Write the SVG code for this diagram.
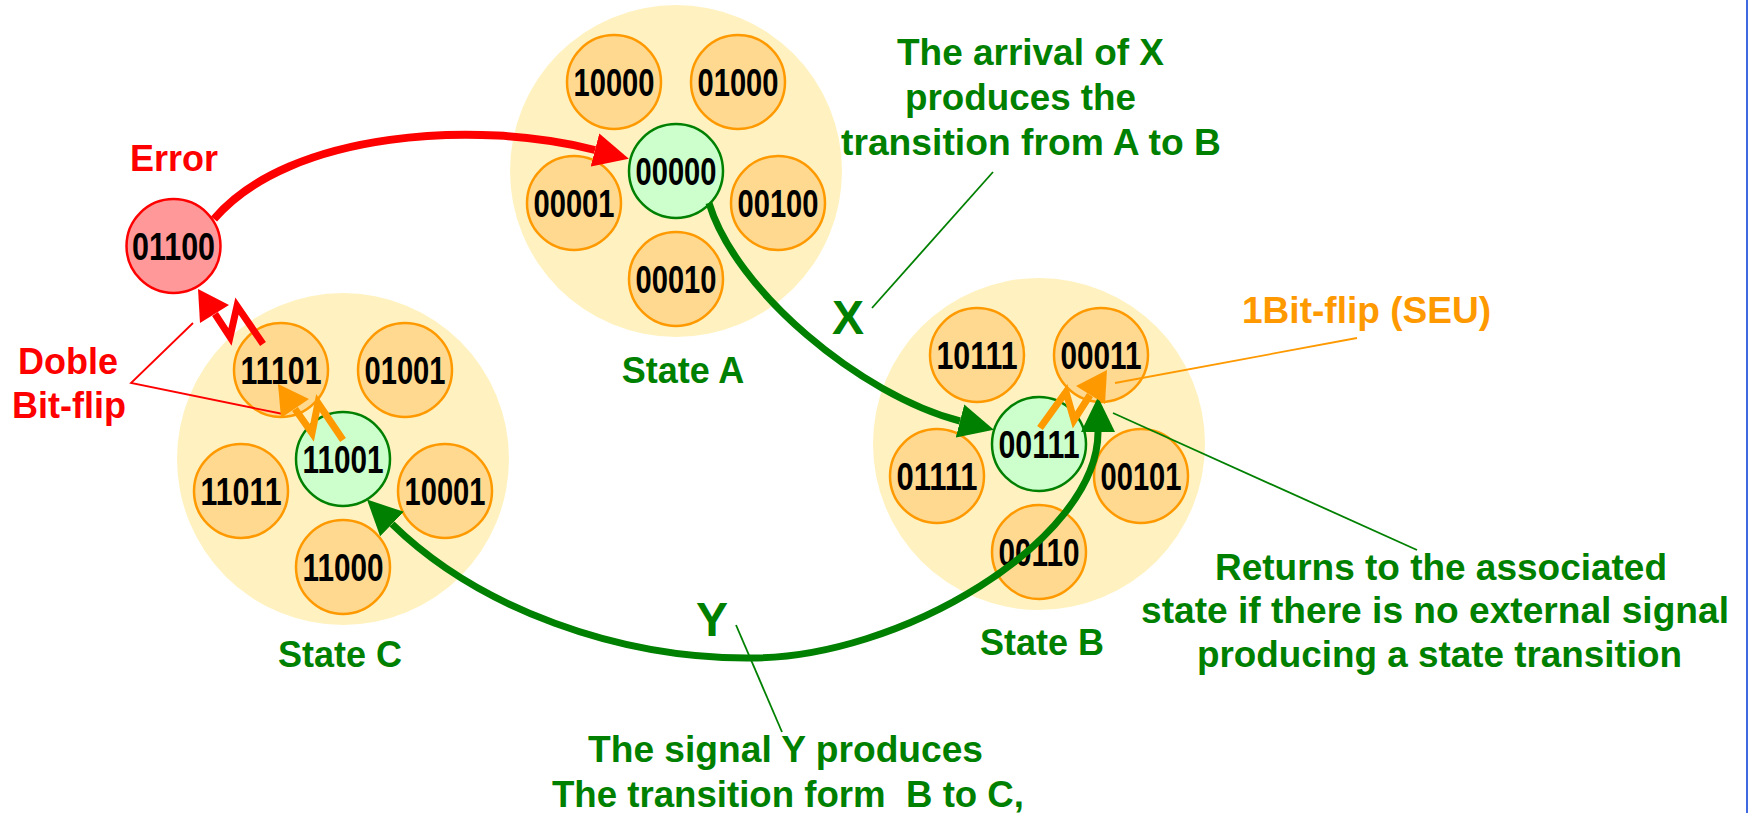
<svg xmlns="http://www.w3.org/2000/svg" width="1748" height="813" viewBox="0 0 1748 813">
  <style>
    .bg { fill: #FFF2C0; }
    .st { fill: #FFD98F; stroke: #FF9900; stroke-width: 2.5; }
    .home { fill: #CCFFCC; stroke: #008000; stroke-width: 2.5; }
    .err { fill: #FF9999; stroke: #FF0000; stroke-width: 2.5; }
    text { font-family: "Liberation Sans", Arial, sans-serif; font-weight: bold; }
    .code { font-size: 38px; fill: #000000; }
    .lbl { font-size: 36px; }
    .big { font-size: 48px; text-anchor: middle; }
    .mid { text-anchor: middle; }
    .g { fill: #008000; }
    .r { fill: #FF0000; }
    .o { fill: #FF9900; }
    .thick { fill: none; stroke-linecap: butt; }
    .ptr { fill: none; stroke-width: 1.8; }
    .bolt { fill: none; stroke-width: 7; stroke-linejoin: miter; stroke-miterlimit: 10; }
  </style>
  <defs>
    <marker id="head-green" viewBox="0 -18 36 36" refX="0" refY="0" markerWidth="36" markerHeight="36" markerUnits="userSpaceOnUse" orient="auto-start-reverse">
      <path d="M0,-17 L35,0 L0,17 z" fill="#008000"/>
    </marker>
    <marker id="head-red" viewBox="0 -18 36 36" refX="0" refY="0" markerWidth="36" markerHeight="36" markerUnits="userSpaceOnUse" orient="auto">
      <path d="M0,-17 L35,0 L0,17 z" fill="#FF0000"/>
    </marker>
  </defs>

  <rect x="0" y="0" width="1748" height="813" fill="#FFFFFF"/>
  <rect x="1746" y="0" width="2" height="813" fill="#4169E1"/>

  <!-- State A -->
  <g id="state-a">
    <circle class="bg" cx="676" cy="171" r="166"/>
    <text class="lbl g mid" x="683" y="383">State A</text>
  </g>
  <g id="a-10000"><circle class="st" cx="614" cy="82" r="47"/><text class="code" x="573.5" y="95.5" textLength="81" lengthAdjust="spacingAndGlyphs">10000</text></g>
  <g id="a-01000"><circle class="st" cx="738" cy="82" r="47"/><text class="code" x="697.5" y="95.5" textLength="81" lengthAdjust="spacingAndGlyphs">01000</text></g>
  <g id="a-00000"><circle class="home" cx="676" cy="171" r="47"/><text class="code" x="635.5" y="184.5" textLength="81" lengthAdjust="spacingAndGlyphs">00000</text></g>
  <g id="a-00001"><circle class="st" cx="574" cy="203" r="47"/><text class="code" x="533.5" y="216.5" textLength="81" lengthAdjust="spacingAndGlyphs">00001</text></g>
  <g id="a-00100"><circle class="st" cx="778" cy="203" r="47"/><text class="code" x="737.5" y="216.5" textLength="81" lengthAdjust="spacingAndGlyphs">00100</text></g>
  <g id="a-00010"><circle class="st" cx="676" cy="279" r="47"/><text class="code" x="635.5" y="292.5" textLength="81" lengthAdjust="spacingAndGlyphs">00010</text></g>

  <!-- State B -->
  <g id="state-b">
    <circle class="bg" cx="1039" cy="444" r="166"/>
    <text class="lbl g mid" x="1042" y="655">State B</text>
  </g>
  <g id="b-10111"><circle class="st" cx="977" cy="355" r="47"/><text class="code" x="936.5" y="368.5" textLength="81" lengthAdjust="spacingAndGlyphs">10111</text></g>
  <g id="b-00011"><circle class="st" cx="1101" cy="355" r="47"/><text class="code" x="1060.5" y="368.5" textLength="81" lengthAdjust="spacingAndGlyphs">00011</text></g>
  <g id="b-00111"><circle class="home" cx="1039" cy="444" r="47"/><text class="code" x="998.5" y="457.5" textLength="81" lengthAdjust="spacingAndGlyphs">00111</text></g>
  <g id="b-01111"><circle class="st" cx="937" cy="476" r="47"/><text class="code" x="896.5" y="489.5" textLength="81" lengthAdjust="spacingAndGlyphs">01111</text></g>
  <g id="b-00101"><circle class="st" cx="1141" cy="476" r="47"/><text class="code" x="1100.5" y="489.5" textLength="81" lengthAdjust="spacingAndGlyphs">00101</text></g>
  <g id="b-00110"><circle class="st" cx="1039" cy="552" r="47"/><text class="code" x="998.5" y="565.5" textLength="81" lengthAdjust="spacingAndGlyphs">00110</text></g>

  <!-- State C -->
  <g id="state-c">
    <circle class="bg" cx="343" cy="459" r="166"/>
    <text class="lbl g mid" x="340" y="667">State C</text>
  </g>
  <g id="c-11101"><circle class="st" cx="281" cy="370" r="47"/><text class="code" x="240.5" y="383.5" textLength="81" lengthAdjust="spacingAndGlyphs">11101</text></g>
  <g id="c-01001"><circle class="st" cx="405" cy="370" r="47"/><text class="code" x="364.5" y="383.5" textLength="81" lengthAdjust="spacingAndGlyphs">01001</text></g>
  <g id="c-11001"><circle class="home" cx="343" cy="459" r="47"/><text class="code" x="302.5" y="472.5" textLength="81" lengthAdjust="spacingAndGlyphs">11001</text></g>
  <g id="c-11011"><circle class="st" cx="241" cy="491" r="47"/><text class="code" x="200.5" y="504.5" textLength="81" lengthAdjust="spacingAndGlyphs">11011</text></g>
  <g id="c-10001"><circle class="st" cx="445" cy="491" r="47"/><text class="code" x="404.5" y="504.5" textLength="81" lengthAdjust="spacingAndGlyphs">10001</text></g>
  <g id="c-11000"><circle class="st" cx="343" cy="567" r="47"/><text class="code" x="302.5" y="580.5" textLength="81" lengthAdjust="spacingAndGlyphs">11000</text></g>

  <!-- Error state -->
  <g id="error">
    <circle class="err" cx="173.5" cy="246" r="47"/>
    <text class="code" x="132" y="259.5" textLength="83" lengthAdjust="spacingAndGlyphs">01100</text>
    <text class="lbl r mid" x="174" y="171">Error</text>
  </g>

  <!-- Transitions -->
  <g id="connectors">
    <path class="thick" d="M214,219 C290,130 480,120 595,150" stroke="#FF0000" stroke-width="8" marker-end="url(#head-red)"/>
    <path class="thick" d="M709,203 C735,290 860,395 960,421" stroke="#008000" stroke-width="7" marker-end="url(#head-green)"/>
    <path class="thick" d="M1098,432 C1098,540 900,660 747,658 C620,658 480,610 392,524" stroke="#008000" stroke-width="7" marker-start="url(#head-green)" marker-end="url(#head-green)"/>

    <!-- callout leaders -->
    <polyline class="ptr" points="193,323 131,383 283,414" stroke="#FF0000"/>
    <line class="ptr" x1="993" y1="172" x2="872" y2="308" stroke="#008000"/>
    <line class="ptr" x1="1357" y1="338" x2="1115" y2="383" stroke="#FF9900"/>
    <line class="ptr" x1="1417" y1="550" x2="1113" y2="413" stroke="#008000"/>
    <line class="ptr" x1="736" y1="625" x2="782" y2="732" stroke="#008000"/>

    <!-- bit-flip bolts -->
    <polyline class="bolt" points="263,344 237,306 230,337 215,314" stroke="#FF0000"/>
    <polygon points="198,289 229,305 200,323" fill="#FF0000"/>
    <polyline class="bolt" points="343,440 318,403 312,433 295,409" stroke="#FF9900" stroke-width="6"/>
    <polygon points="278,384 309,399 281,418" fill="#FF9900"/>
    <polyline class="bolt" points="1040,428 1066,392 1074,420 1090,395" stroke="#FF9900" stroke-width="6"/>
    <polygon points="1107,370 1105,404 1076,386" fill="#FF9900"/>
  </g>

  <!-- Annotations -->
  <g id="labels">
    <text class="big g" x="848" y="334">X</text>
    <text class="big g" x="712" y="636">Y</text>
    <text class="lbl r mid" x="68" y="374">Doble</text>
    <text class="lbl r mid" x="69" y="418">Bit-flip</text>
    <text class="lbl g" x="897" y="65" textLength="267" lengthAdjust="spacingAndGlyphs">The arrival of X</text>
    <text class="lbl g" x="905" y="110" textLength="231" lengthAdjust="spacingAndGlyphs">produces the</text>
    <text class="lbl g" x="841" y="155" textLength="380" lengthAdjust="spacingAndGlyphs">transition from A to B</text>
    <text class="lbl o" x="1242" y="323" textLength="249" lengthAdjust="spacingAndGlyphs">1Bit-flip (SEU)</text>
    <text class="lbl g" x="1215" y="580" textLength="452" lengthAdjust="spacingAndGlyphs">Returns to the associated</text>
    <text class="lbl g" x="1141" y="623" textLength="588" lengthAdjust="spacingAndGlyphs">state if there is no external signal</text>
    <text class="lbl g" x="1197" y="667" textLength="485" lengthAdjust="spacingAndGlyphs">producing a state transition</text>
    <text class="lbl g" x="588" y="762" textLength="395" lengthAdjust="spacingAndGlyphs">The signal Y produces</text>
    <text class="lbl g" x="552" y="807" textLength="472" lengthAdjust="spacingAndGlyphs" xml:space="preserve">The transition form  B to C,</text>
  </g>
</svg>
